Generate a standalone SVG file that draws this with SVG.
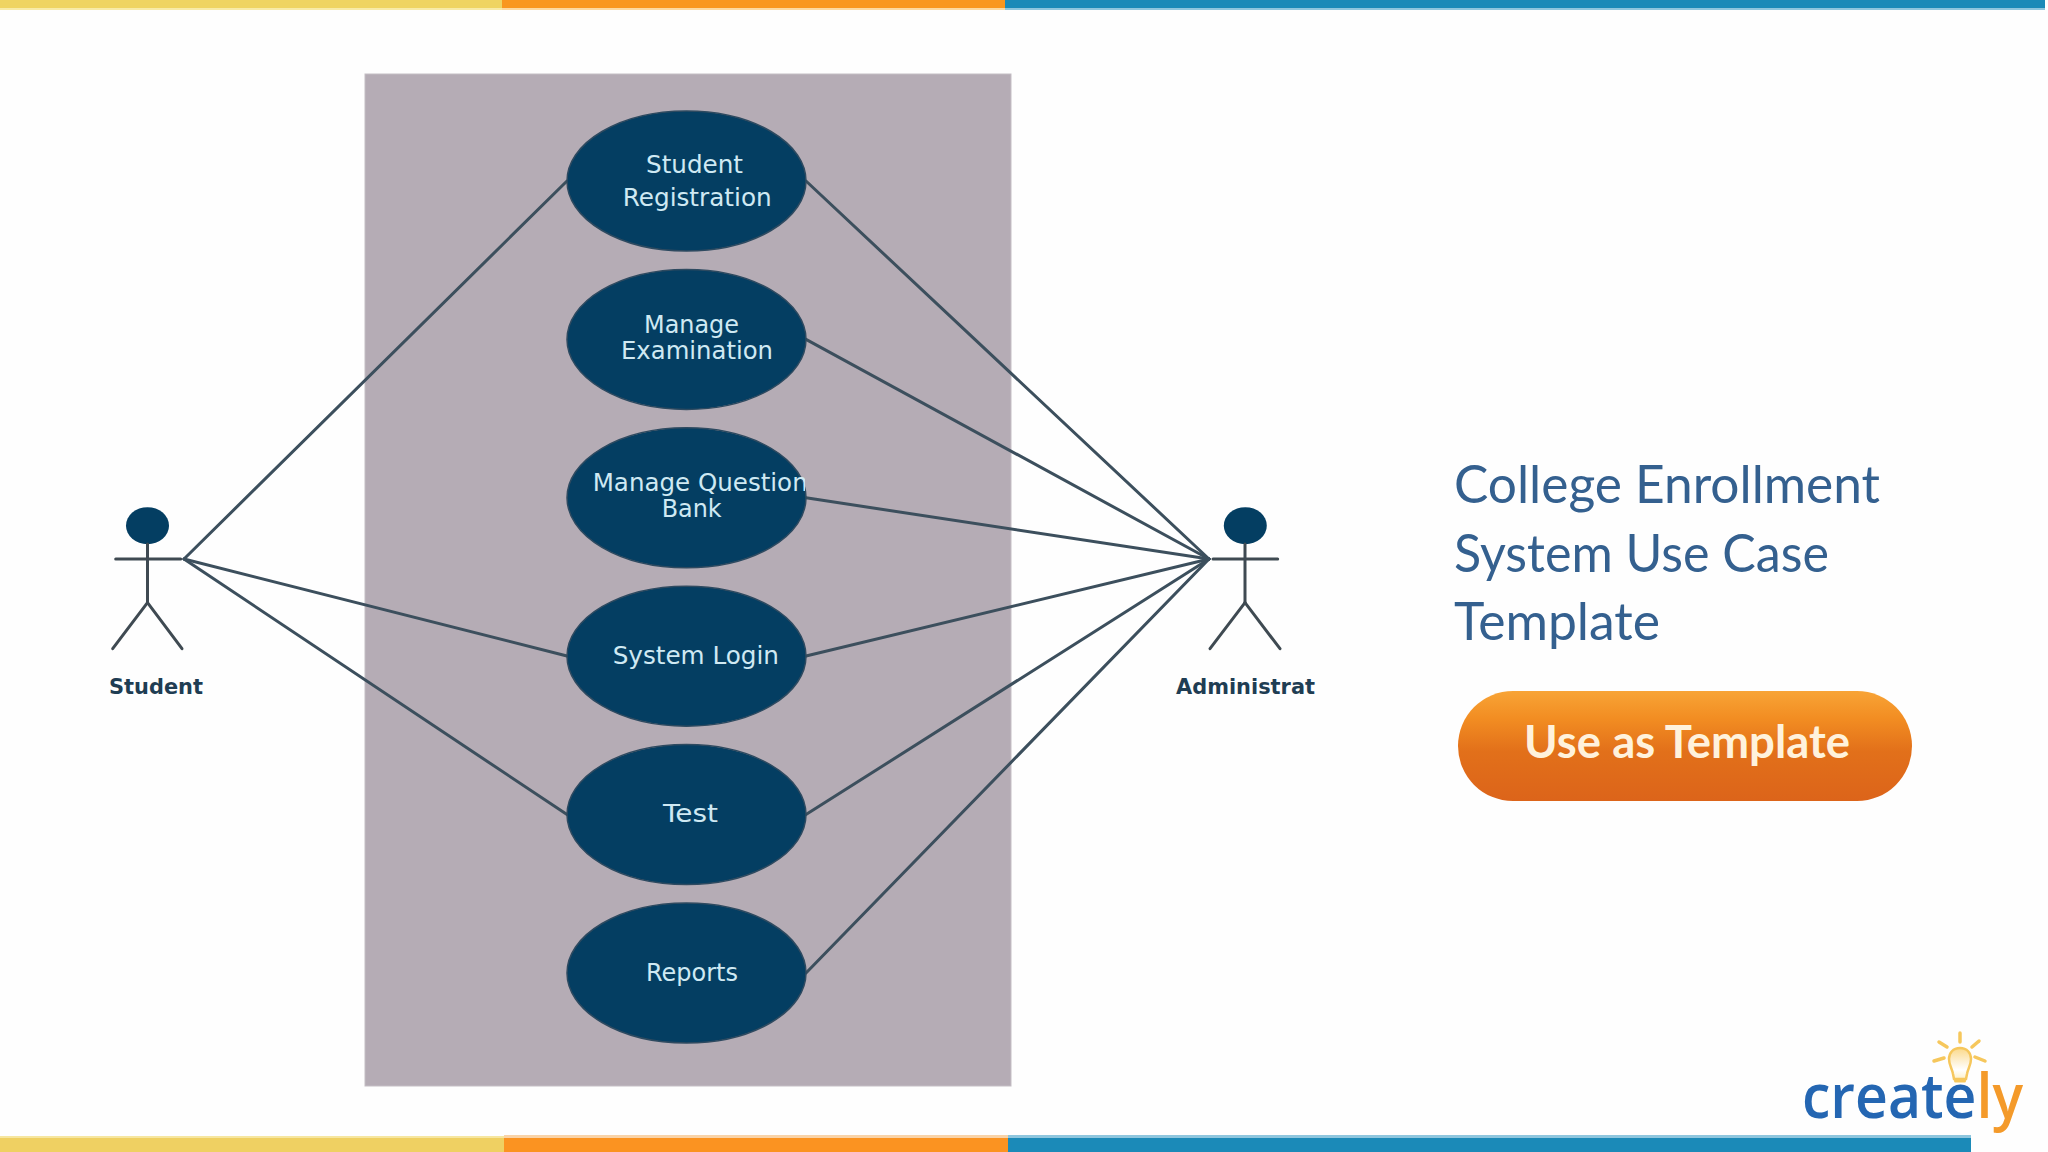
<svg xmlns="http://www.w3.org/2000/svg" width="2048" height="1152" viewBox="0 0 2048 1152">
<style>
.uc{fill:#043e62;stroke:#2e4a60;stroke-width:1.5}
.ut{font-family:"DejaVu Sans",sans-serif;font-size:24.5px;fill:#cfe9f3}
.con line{stroke:#3c4f5d;stroke-width:3;stroke-linecap:round}
.act line{stroke:#3f4a52;stroke-width:3;stroke-linecap:round}
.act ellipse{fill:#043e62}
.al{font-family:"DejaVu Sans",sans-serif;font-weight:700;font-size:21px;fill:#1f3d53}
.title{font-family:Lato,"Open Sans",sans-serif;font-size:52px;fill:#34608f}
.logo{font-family:"Open Sans",sans-serif;font-weight:600;font-size:62px}
.ray{stroke:#f6c75c;stroke-width:3.5;stroke-linecap:round}
</style>
<defs>
<linearGradient id="btn" x1="0" y1="0" x2="0" y2="1">
<stop offset="0" stop-color="#f8a436"/><stop offset="0.25" stop-color="#f28d22"/><stop offset="0.55" stop-color="#e2701a"/><stop offset="1" stop-color="#dc641a"/>
</linearGradient>
<linearGradient id="bulb" x1="0" y1="0" x2="0" y2="1">
<stop offset="0" stop-color="#fbd98a"/><stop offset="0.7" stop-color="#ffffff"/><stop offset="1" stop-color="#fdf0c8"/>
</linearGradient>
<clipPath id="mq"><rect x="585" y="460" width="220" height="40"/></clipPath>
</defs>
<rect width="2048" height="1152" fill="#fefefe"/>
<g id="bars">
<rect x="0" y="0" width="502" height="10" fill="#f8eba8"/><rect x="502" y="0" width="503" height="10" fill="#fdd9a0"/><rect x="1005" y="0" width="1040" height="10" fill="#8fc6de"/>
<rect x="0" y="0" width="502" height="8" fill="#efd462"/><rect x="502" y="0" width="503" height="8" fill="#f9971f"/><rect x="1005" y="0" width="1040" height="8" fill="#1b8ab8"/>
<rect x="0" y="1136" width="504" height="16" fill="#f6e6a0"/><rect x="504" y="1135" width="504" height="17" fill="#f9d3a8"/><rect x="1008" y="1135" width="963" height="17" fill="#8fc6de"/>
<rect x="0" y="1138" width="504" height="14" fill="#efd062"/><rect x="504" y="1138" width="504" height="14" fill="#fb9321"/><rect x="1008" y="1138" width="963" height="14" fill="#1b8ab8"/>
</g>
<rect id="boundary" x="365" y="74" width="646" height="1012" fill="#b5acb5" stroke="#c4bec4" stroke-width="1"/>
<g id="connectors" class="con">
<line x1="184" y1="559" x2="567" y2="181"/>
<line x1="184" y1="559" x2="567" y2="656"/>
<line x1="184" y1="559" x2="567" y2="814.6"/>
<line x1="1209" y1="559" x2="806" y2="181"/>
<line x1="1209" y1="559" x2="806" y2="339.4"/>
<line x1="1209" y1="559" x2="806" y2="497.8"/>
<line x1="1209" y1="559" x2="806" y2="656"/>
<line x1="1209" y1="559" x2="806" y2="814.6"/>
<line x1="1209" y1="559" x2="806" y2="973"/>
</g>
<g id="uc-student-registration"><ellipse class="uc" cx="686.5" cy="181" rx="119.5" ry="70"/>
<text class="ut" x="646" y="172.7" textLength="97" lengthAdjust="spacingAndGlyphs">Student</text>
<text class="ut" x="622.7" y="206" textLength="149" lengthAdjust="spacingAndGlyphs">Registration</text></g>
<g id="uc-manage-examination"><ellipse class="uc" cx="686.5" cy="339.4" rx="119.5" ry="70"/>
<text class="ut" x="644" y="332.7" textLength="95" lengthAdjust="spacingAndGlyphs">Manage</text>
<text class="ut" x="621" y="359" textLength="152" lengthAdjust="spacingAndGlyphs">Examination</text></g>
<g id="uc-manage-question-bank"><ellipse class="uc" cx="686.5" cy="497.8" rx="119.5" ry="70"/>
<text class="ut" x="592.7" y="490.7" textLength="215" lengthAdjust="spacingAndGlyphs" clip-path="url(#mq)">Manage Question</text>
<text class="ut" x="661.7" y="517.3" textLength="60" lengthAdjust="spacingAndGlyphs">Bank</text></g>
<g id="uc-system-login"><ellipse class="uc" cx="686.5" cy="656.2" rx="119.5" ry="70"/>
<text class="ut" x="612.7" y="664.3" textLength="166.3" lengthAdjust="spacingAndGlyphs">System Login</text></g>
<g id="uc-test"><ellipse class="uc" cx="686.5" cy="814.6" rx="119.5" ry="70"/>
<text class="ut" x="663" y="822.3" textLength="55" lengthAdjust="spacingAndGlyphs">Test</text></g>
<g id="uc-reports"><ellipse class="uc" cx="686.5" cy="973" rx="119.5" ry="70"/>
<text class="ut" x="646" y="980.7" textLength="92" lengthAdjust="spacingAndGlyphs">Reports</text></g>
<g id="actor-student" class="act">
<ellipse cx="147.5" cy="525.7" rx="21.5" ry="18.5"/>
<line x1="147.5" y1="544" x2="147.5" y2="602.7"/>
<line x1="115.7" y1="559" x2="180.7" y2="559"/>
<line x1="147.5" y1="602.7" x2="112.7" y2="648.7"/>
<line x1="147.5" y1="602.7" x2="182" y2="648.7"/>
<text class="al" x="109" y="694" textLength="94" lengthAdjust="spacingAndGlyphs">Student</text>
</g>
<g id="actor-administrator" class="act">
<ellipse cx="1245.3" cy="525.7" rx="21.5" ry="18.5"/>
<line x1="1245" y1="544" x2="1245" y2="602.7"/>
<line x1="1213" y1="559" x2="1277.7" y2="559"/>
<line x1="1245" y1="602.7" x2="1210" y2="648.7"/>
<line x1="1245" y1="602.7" x2="1280" y2="648.7"/>
<text class="al" x="1176" y="694" textLength="139" lengthAdjust="spacingAndGlyphs">Administrat</text>
</g>
<g id="title">
<text class="title" x="1454" y="503.3" textLength="426" lengthAdjust="spacingAndGlyphs">College Enrollment</text>
<text class="title" x="1454" y="571.7" textLength="375" lengthAdjust="spacingAndGlyphs">System Use Case</text>
<text class="title" x="1454" y="640" textLength="206" lengthAdjust="spacingAndGlyphs">Template</text>
</g>
<g id="button">
<rect x="1458" y="691" width="454" height="110" rx="55" ry="55" fill="url(#btn)"/>
<text x="1524" y="758" font-family="Lato,sans-serif" font-weight="700" font-size="45" fill="#fff2dc" textLength="326" lengthAdjust="spacingAndGlyphs">Use as Template</text>
</g>
<g id="logo">
<line class="ray" x1="1960" y1="1033" x2="1960" y2="1042"/>
<line class="ray" x1="1939" y1="1042" x2="1947" y2="1047"/>
<line class="ray" x1="1979" y1="1041" x2="1972" y2="1047"/>
<line class="ray" x1="1934" y1="1061" x2="1944" y2="1058"/>
<line class="ray" x1="1985" y1="1061" x2="1975" y2="1057"/>
<path d="M1960 1048c-7 0-11 5-11 11 0 6 3 9 4 15l1 5h12l1-5c1-6 4-9 4-15 0-6-4-11-11-11z" fill="url(#bulb)" stroke="#f6c75c" stroke-width="2.5"/>
<rect x="1954" y="1079" width="12" height="3.5" rx="1.5" fill="#f6c75c"/>
<text class="logo" x="1802" y="1118" textLength="221" lengthAdjust="spacingAndGlyphs"><tspan fill="#2466b2">create</tspan><tspan fill="#f49a2a">ly</tspan></text>
</g>
</svg>
